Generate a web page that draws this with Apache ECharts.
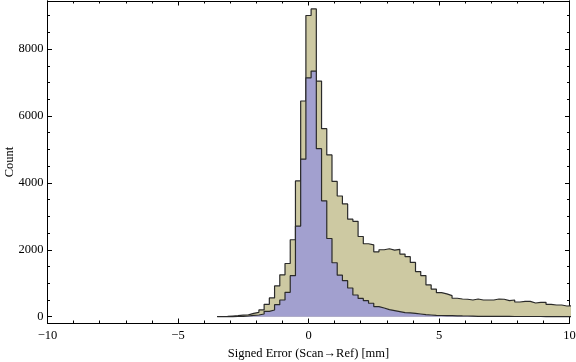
<!DOCTYPE html>
<html>
<head>
<meta charset="utf-8">
<script src="https://cdn.jsdelivr.net/npm/echarts@6/dist/echarts.min.js"></script>
<style>html,body{margin:0;padding:0;background:#fff;}#c{width:576px;height:362px;}</style>
</head>
<body>
<div id="c"></div>
<script>
// Histogram bins: first bin left edge and bin width (units: mm)
const binStart = -3.5;
const binWidth = 0.2;
// Tan (larger) histogram counts, one per bin starting at binStart
const tanCounts = [5,10,20,30,45,55,100,130,200,370,560,920,1250,1590,2300,4060,6450,
  9006,9203,7045,5621,4836,4045,3608,3370,2916,2850,2397,2180,2149,1940,2000,2030,1990,2010,
  1870,1795,1621,1348,1228,950,826,716,680,628,550,527,520,498,527,498,498,498,527,520,478,
  498,438,458,458,408,428,428,368,348,348,318,320];
// Blue (smaller) histogram counts
const blueCounts = [0,0,2,5,10,20,40,50,80,159,199,358,498,726,1224,2710,4710,
  7143,7343,5024,3463,2337,1612,1240,1075,857,648,546,478,400,300,259,209,179,149,
  119,110,100,80,60,50,40,35,30,28,25,22,20,18,10,9,8,7,7,6,6,5,5,5,4,4,4,3,3,3,3,3,3];
const xTicks = [-10,-5,0,5,10];
const yMajorTicks = [0,2000,4000,6000,8000];
const yMinorTicks = [500,1000,1500,2500,3000,3500,4500,5000,5500,6500,7000,7500,8500,9000];

function stepData(counts){
  const d = counts.map((c,i)=>[+(binStart+binWidth*i).toFixed(3), c]);
  d.push([+(binStart+binWidth*counts.length).toFixed(3), counts[counts.length-1]]);
  return d;
}
const font = 'Liberation Serif';
const chart = echarts.init(document.getElementById('c'), null, {renderer:'canvas'});
const yMin = -190, yMax = 9440;
function yAxisDef(pos, major, showLabel){
  return {
    type:'value', position:pos, min:yMin, max:yMax,
    axisLine:{show:true, onZero:false, lineStyle:{color:'#000', width:1}},
    splitLine:{show:false},
    axisTick:{show:true, inside:true, length: major?4.5:2.5, customValues: major?yMajorTicks:yMinorTicks, lineStyle:{color:'#000'}},
    axisLabel:{show:showLabel, customValues: yMajorTicks, margin:4, color:'#000', fontFamily:font, fontSize:12.5,
      formatter:(v)=>String(v)},
    name: showLabel ? 'Count' : '', nameLocation:'middle', nameGap:31, nameMoveOverlap:false,
    nameTextStyle:{color:'#000', fontFamily:font, fontSize:12.5}
  };
}
function xAxisDef(pos, showLabel){
  return {
    type:'value', position:pos, min:-10, max:10, interval:5,
    axisLine:{show:true, onZero:false, lineStyle:{color:'#000', width:1}},
    splitLine:{show:false},
    axisTick:{show:true, inside:true, length:4.5, lineStyle:{color:'#000'}},
    minorTick:{show:true, splitNumber:5, length:2.5, lineStyle:{color:'#000'}},
    axisLabel:{show:showLabel, margin:6, color:'#000', fontFamily:font, fontSize:12.5,
      formatter:(v)=> xTicks.includes(v) ? String(v).replace('-', '\u2212') : ''},
    name: showLabel ? 'Signed Error (Scan\u2192Ref) [mm]' : '', nameLocation:'middle', nameGap:24, nameMoveOverlap:false,
    nameTextStyle:{color:'#000', fontFamily:font, fontSize:12.5}
  };
}
chart.setOption({
  animation:false,
  backgroundColor:'#fff',
  grid:{left:47.5, right:6.5, top:1, bottom:39, containLabel:false, outerBoundsMode:'none'},
  xAxis:[xAxisDef('bottom', true), xAxisDef('top', false)],
  yAxis:[yAxisDef('left', true, true), yAxisDef('left', false, false), yAxisDef('right', true, false), yAxisDef('right', false, false)],
  series:[
    {type:'line', step:'end', data:stepData(tanCounts), showSymbol:false, symbol:'none',
     lineStyle:{color:'#2a2a2a', width:1.2}, areaStyle:{color:'#cdc9a2', opacity:1}, z:2},
    {type:'line', step:'end', data:stepData(blueCounts), showSymbol:false, symbol:'none',
     lineStyle:{color:'#2a2a2a', width:1.2}, areaStyle:{color:'#a2a0cf', opacity:1}, z:3}
  ]
});
</script>
</body>
</html>
